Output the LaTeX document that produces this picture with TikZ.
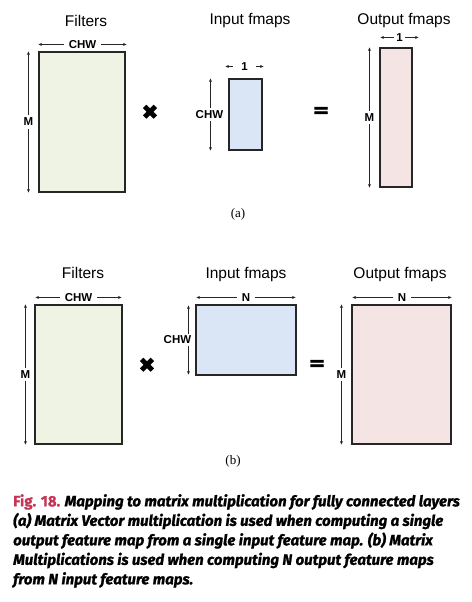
\documentclass[tikz,border=0pt]{standalone}
\usepackage{fontspec}
\setmainfont{Liberation Sans}
\newfontfamily\subfont{Liberation Serif}
\newfontfamily\capfont[FakeBold=1.2]{Fira Sans}
\newfontfamily\symfont[FakeBold=2.5]{DejaVu Sans}
\usetikzlibrary{arrows.meta,calc}
\definecolor{filtgreen}{RGB}{239,243,228}
\definecolor{ifmapblue}{RGB}{218,230,245}
\definecolor{ofmappink}{RGB}{245,228,228}
\definecolor{figred}{RGB}{196,54,86}

\begin{document}
\begin{tikzpicture}[x=1pt,y=-1pt,
  mat/.style={draw=black!85,line width=1.1pt,inner sep=0pt},
  dim/.style={{Stealth[length=3.5pt,width=3pt]}-{Stealth[length=3.5pt,width=3pt]},line width=0.6pt,black!85},
  dimlbl/.style={fill=white,inner xsep=5pt,inner ysep=2pt,text=black,font=\bfseries\fontsize{11.5}{12}\selectfont},
  title/.style={font=\fontsize{15.5}{16}\selectfont},
  op/.style={font=\symfont\bfseries\fontsize{20}{20}\selectfont}]
\useasboundingbox (0,0) rectangle (471,602);

% (a) matrix vector
\node[title] (filtAt) at (86,21) {Filters};
\node[title] (ifmapAt) at (250,21) {Input fmaps};
\node[title] (ofmapAt) at (404,21) {Output fmaps};
\node[mat,fill=filtgreen,minimum width=86,minimum height=140] (filtA) at (82,122) {};
\node[mat,fill=ifmapblue,minimum width=33,minimum height=71] (ifmapA) at (245.5,114.5) {};
\node[mat,fill=ofmappink,minimum width=32,minimum height=139] (ofmapA) at (396,117.5) {};
\node[op] (timesA) at (150,112) {✖};
\node[op] (eqA) at (321,112) {=};
\node[font=\subfont\fontsize{13}{13}\selectfont] (subA) at (238,214) {(a)};

\draw[dim] ($(filtA.north west)+(0,-7)$) -- node[dimlbl]{CHW} ($(filtA.north east)+(1,-7)$);
\draw[dim] ($(filtA.north west)+(-10,0)$) -- node[dimlbl,inner xsep=1pt,inner ysep=3pt]{M} ($(filtA.south west)+(-10,0)$);
\draw[dim] ($(ifmapA.north west)+(-3,-12)$) -- node[dimlbl,inner xsep=8pt]{1} ($(ifmapA.north east)+(1,-12)$);
\draw[dim] ($(ifmapA.north west)+(-18,0)$) -- node[dimlbl,inner xsep=1pt,xshift=-1]{CHW} ($(ifmapA.south west)+(-18,0)$);
\draw[dim] ($(ofmapA.north west)+(1,-10)$) -- node[dimlbl,inner xsep=2pt]{1} ($(ofmapA.north east)+(6,-10)$);
\draw[dim] ($(ofmapA.north west)+(-10,0)$) -- node[dimlbl,inner xsep=1pt,inner ysep=3pt]{M} ($(ofmapA.south west)+(-10,0)$);

% (b) matrix matrix
\node[title] (filtBt) at (83,273) {Filters};
\node[title] (ifmapBt) at (246,274) {Input fmaps};
\node[title] (ofmapBt) at (400,274) {Output fmaps};
\node[mat,fill=filtgreen,minimum width=87,minimum height=139] (filtB) at (78.5,374.5) {};
\node[mat,fill=ifmapblue,minimum width=100,minimum height=70] (ifmapB) at (246,340) {};
\node[mat,fill=ofmappink,minimum width=99,minimum height=139] (ofmapB) at (401.5,374.5) {};
\node[op] (timesB) at (147,365) {✖};
\node[op] (eqB) at (317,365) {=};
\node[font=\subfont\fontsize{13}{13}\selectfont] (subB) at (233,461) {(b)};

\draw[dim] ($(filtB.north west)+(1,-7)$) -- node[dimlbl]{CHW} ($(filtB.north east)+(-1,-7)$);
\draw[dim] ($(filtB.north west)+(-9,0)$) -- node[dimlbl,inner xsep=1pt,inner ysep=3pt]{M} ($(filtB.south west)+(-9,0)$);
\draw[dim] ($(ifmapB.north west)+(1,-7)$) -- node[dimlbl]{N} ($(ifmapB.north east)+(-1,-7)$);
\draw[dim] ($(ifmapB.north west)+(-7,1)$) -- node[dimlbl,inner xsep=1pt,xshift=-11]{CHW} ($(ifmapB.south west)+(-7,-1)$);
\draw[dim] ($(ofmapB.north west)+(1,-7)$) -- node[dimlbl]{N} ($(ofmapB.north east)+(0,-7)$);
\draw[dim] ($(ofmapB.north west)+(-10,0)$) -- node[dimlbl,inner xsep=1pt,inner ysep=3pt]{M} ($(ofmapB.south west)+(-10,0)$);

\node[anchor=north west,align=left,inner sep=0pt,
  font=\capfont\bfseries\itshape\fontsize{15}{19.5}\selectfont] (caption) at (13,494)
  {{\upshape\color{figred}Fig. 18.} Mapping to matrix multiplication for fully connected layers\\
   (a) Matrix Vector multiplication is used when computing a single\\
   output feature map from a single input feature map. (b) Matrix\\
   Multiplications is used when computing N output feature maps\\
   from N input feature maps.};
\end{tikzpicture}
\end{document}
